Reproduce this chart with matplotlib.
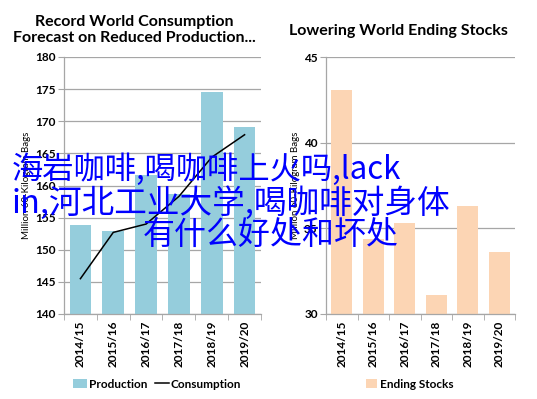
import numpy as np
import matplotlib
matplotlib.use("Agg")
import matplotlib.pyplot as plt

plt.rcParams['font.family'] = ['Lato', 'DejaVu Sans']

seasons = ["2014/15", "2015/16", "2016/17", "2017/18", "2018/19", "2019/20"]
production = [153.8, 152.9, 161.6, 158.6, 174.5, 169.1]
consumption = [145.5, 152.7, 154.0, 158.3, 164.4, 167.9]
ending_stocks = [43.1, 34.4, 35.3, 31.1, 36.3, 33.6]

left_title = "Record World Consumption\nForecast on Reduced Production..."
right_title = "Lowering World Ending Stocks"
ylab = "Million 60-Kilogram Bags"
overlay = ["海岩咖啡,喝咖啡上火吗,lack", "in,河北工业大学,喝咖啡对身体", "有什么好处和坏处"]

blue = "#95cddc"
peach = "#fcd5b4"
grid_c = "#a6a6a6"
W, H = 537, 399

fig = plt.figure(figsize=(W / 100, H / 100), dpi=100)


def px_axes(x0, y0, x1, y1):
    return fig.add_axes([x0 / W, 1 - y1 / H, (x1 - x0) / W, (y1 - y0) / H])


def style(ax, ymin, ymax, step):
    x = np.arange(len(seasons))
    ax.set_xlim(-0.5, len(seasons) - 0.5)
    ax.set_ylim(ymin, ymax)
    ax.set_yticks(np.arange(ymin, ymax + 0.1, step))
    ax.yaxis.grid(True, color=grid_c, lw=0.9)
    ax.set_axisbelow(True)
    for s in ["top", "right"]:
        ax.spines[s].set_visible(False)
    for s in ["left", "bottom"]:
        ax.spines[s].set_color(grid_c)
        ax.spines[s].set_linewidth(0.9)
    ax.set_xticks(x)
    ax.set_xticklabels(seasons, rotation=90, fontweight="bold", fontsize=8.5,
                       color="black")
    ax.set_xticks(np.arange(-0.5, len(seasons)), minor=True)
    ax.tick_params(axis="x", which="major", length=0, pad=5)
    ax.tick_params(axis="x", which="minor", length=4, color=grid_c)
    ax.tick_params(axis="y", length=4, color=grid_c, labelsize=8.5, pad=2,
                   labelcolor="black")
    for t in ax.get_yticklabels():
        t.set_fontweight("bold")
    return x


# left chart
ax1 = px_axes(64, 57, 261, 314)
x = style(ax1, 140, 180, 5)
b1 = ax1.bar(x, production, width=0.66, color=blue, label="Production")
l1, = ax1.plot(x, consumption, color="black", lw=1.1, label="Consumption")
ax1.set_ylabel(ylab, fontsize=7, labelpad=3, color="black")
fig.text(134 / W, 1 - 30 / H, left_title, ha="center", va="center",
         fontsize=11.5, fontweight="bold", linespacing=1.25)
fig.legend(handles=[b1, l1], loc="center", bbox_to_anchor=(157 / W, 1 - 384 / H),
           ncol=2, frameon=False, handlelength=1.2, handleheight=0.9,
           handletextpad=0.15, columnspacing=0.6, prop={"weight": "bold", "size": 8.5})

# right chart
ax2 = px_axes(326, 57, 515, 314)
x = style(ax2, 30, 45, 5)
b2 = ax2.bar(x, ending_stocks, width=0.67, color=peach, label="Ending Stocks")
ax2.set_ylabel(ylab, fontsize=7, labelpad=3, color="black")
fig.text(398 / W, 1 - 31 / H, right_title, ha="center", va="center",
         fontsize=11.5, fontweight="bold")
fig.legend(handles=[b2], loc="center", bbox_to_anchor=(410 / W, 1 - 384 / H),
           frameon=False, handlelength=0.9, handleheight=0.9, handletextpad=0.3,
           prop={"weight": "bold", "size": 8.5})

# overlay text
cjk = ['Noto Sans CJK SC', 'DejaVu Sans']
fig.text(12 / W, 1 - 170 / H, overlay[0], color="#0000ff", fontsize=22.5,
         family=cjk, va="center", ha="left")
fig.text(12 / W, 1 - 203 / H, overlay[1], color="#0000ff", fontsize=23.5,
         family=cjk, va="center", ha="left")
fig.text(143 / W, 1 - 235 / H, overlay[2], color="#0000ff", fontsize=23,
         family=cjk, va="center", ha="left")

fig.savefig("out.png", dpi=100)
